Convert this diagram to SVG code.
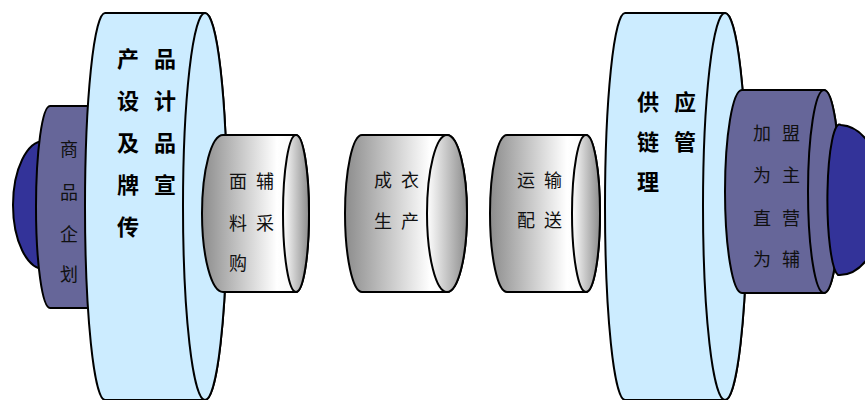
<svg xmlns="http://www.w3.org/2000/svg" width="865" height="400" viewBox="0 0 865 400">
<defs>
<linearGradient id="gBody" x1="0" y1="0" x2="1" y2="0">
<stop offset="0" stop-color="#8c8c8c"/>
<stop offset="0.7" stop-color="#ffffff"/>
<stop offset="1" stop-color="#f4f4f4"/>
</linearGradient>
<linearGradient id="gFace" x1="0" y1="0" x2="1" y2="0">
<stop offset="0" stop-color="#ffffff"/>
<stop offset="1" stop-color="#8c8c8c"/>
</linearGradient>
<style>
.s{stroke:#000;stroke-width:2;stroke-linejoin:round}
.blue{fill:#CCECFF}
.purple{fill:#666699}
.dark{fill:#333399}
.gb{fill:url(#gBody)}
.gf{fill:url(#gFace)}
text{font-family:"Noto Sans CJK SC","Noto Sans CJK TC",sans-serif;dominant-baseline:central;text-anchor:middle;fill:#111}
.big{font-size:22px;font-weight:bold;fill:#000}
.sm{font-size:18px}
</style>
</defs>
<g id="dome-left">
<ellipse class="s dark" cx="44" cy="205" rx="31" ry="64"/>
</g>
<g id="planning">
<path class="s purple" d="M50,106 L110,106 L110,308 L50,308 A14 101 0 0 1 50,106 Z"/>
<text class="sm" x="69" y="148">商</text>
<text class="sm" x="69" y="191">品</text>
<text class="sm" x="69" y="233">企</text>
<text class="sm" x="69" y="273">划</text>
</g>
<g id="design">
<path class="s blue" d="M105,13 L205,13 A22 193.5 0 0 1 205,400 L105,400 A20 193.5 0 0 1 105,13 Z"/>
<ellipse class="s blue" cx="205" cy="206.5" rx="22" ry="193.5"/>
<text class="big" x="128 165" y="57">产品</text>
<text class="big" x="128 165" y="99">设计</text>
<text class="big" x="128 165" y="141">及品</text>
<text class="big" x="128 165" y="183">牌宣</text>
<text class="big" x="128" y="225">传</text>
</g>
<g id="purchase">
<path class="s gb" d="M223,135 L296,135 A13 78.5 0 0 1 296,292 L223,292 A21 78.5 0 0 1 223,135 Z"/>
<ellipse class="s gf" cx="296" cy="213.5" rx="13" ry="78.5"/>
<text class="sm" x="238 265" y="180">面辅</text>
<text class="sm" x="238 265" y="222">料采</text>
<text class="sm" x="238" y="262">购</text>
</g>
<g id="production">
<path class="s gb" d="M362,135 L447,135 A20 78.5 0 0 1 447,292 L362,292 A17 78.5 0 0 1 362,135 Z"/>
<ellipse class="s gf" cx="447" cy="213.5" rx="20" ry="78.5"/>
<text class="sm" x="383 410" y="179">成衣</text>
<text class="sm" x="383 410" y="220">生产</text>
</g>
<g id="delivery">
<path class="s gb" d="M507,135 L586,135 A14 78.5 0 0 1 586,292 L507,292 A17 78.5 0 0 1 507,135 Z"/>
<ellipse class="s gf" cx="586" cy="213.5" rx="14" ry="78.5"/>
<text class="sm" x="526 553" y="179">运输</text>
<text class="sm" x="526 553" y="219">配送</text>
</g>
<g id="supply">
<path class="s blue" d="M625,13 L725,13 A22 193.5 0 0 1 725,400 L625,400 A20 193.5 0 0 1 625,13 Z"/>
<ellipse class="s blue" cx="725" cy="206.5" rx="22" ry="193.5"/>
<text class="big" x="648 685" y="100">供应</text>
<text class="big" x="648 685" y="140">链管</text>
<text class="big" x="648" y="180">理</text>
</g>
<g id="franchise">
<path class="s purple" d="M742,90 L824,90 A16 101.5 0 0 1 824,293 L742,293 A17 101.5 0 0 1 742,90 Z"/>
<ellipse class="s purple" cx="824" cy="191.5" rx="16" ry="101.5"/>
<text class="sm" x="762 791" y="132">加盟</text>
<text class="sm" x="762 791" y="174">为主</text>
<text class="sm" x="762 791" y="217">直营</text>
<text class="sm" x="762 791" y="258">为辅</text>
</g>
<g id="dome-right">
<path class="s dark" d="M841,125 A45 75 0 0 1 838,275 A12 75 0 0 1 841,125 Z"/>
</g>
<g id="connectors"></g>
</svg>
